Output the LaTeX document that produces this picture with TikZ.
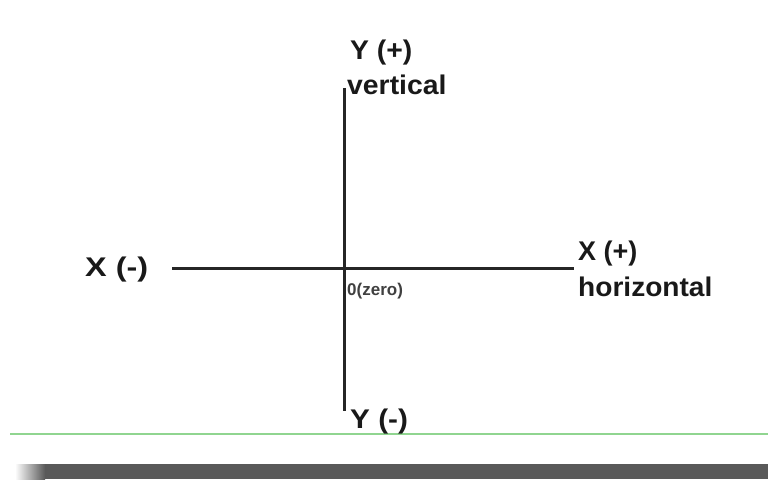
\documentclass[tikz,border=0pt]{standalone}
\usepackage{fontspec}
\setmainfont{Liberation Sans}
\tikzset{
  lbl/.style={font=\fontsize{27}{29}\selectfont\bfseries, text=black!90, inner sep=0pt, anchor=west},
  axis/.style={line width=3pt, draw=black!85}
}
\begin{document}
\begin{tikzpicture}[x=1pt,y=-1pt]
\useasboundingbox (0,0) rectangle (768,479);
\fill[white] (0,0) rectangle (768,479);
% shadow bar
\fill[black!65] (45,464) rectangle (768,479);
\shade[left color=white, right color=black!65] (15,464) rectangle (45,479);
% green line
\draw[green!45!gray!60, line width=2pt] (10,434) -- (768,434);
% axes
\coordinate (vt) at (344,88);
\coordinate (vb) at (344,411);
\coordinate (hl) at (172,268);
\coordinate (hr) at (574,268);
\coordinate (o) at (344,268);
\draw[axis] (vt) -- (vb);
\draw[axis] (hl) -- (hr);
% labels
\node[lbl, xscale=1.05] (yp) at (350,53) {Y (+)};
\node[lbl, xscale=1.05] (vert) at (347,85) {vertical};
\node[lbl, xscale=1.2] (xm) at (85,270) {X (-)};
\node[lbl] (xp) at (578,254) {X (+)};
\node[lbl, xscale=1.04] (hor) at (578,287) {horizontal};
\node[font=\fontsize{17}{18}\selectfont\bfseries, text=black!75, inner sep=0pt, anchor=west] (zero) at (347,291) {0(zero)};
\node[lbl, xscale=1.1] (ym) at (350,422) {Y (-)};
\end{tikzpicture}
\end{document}
